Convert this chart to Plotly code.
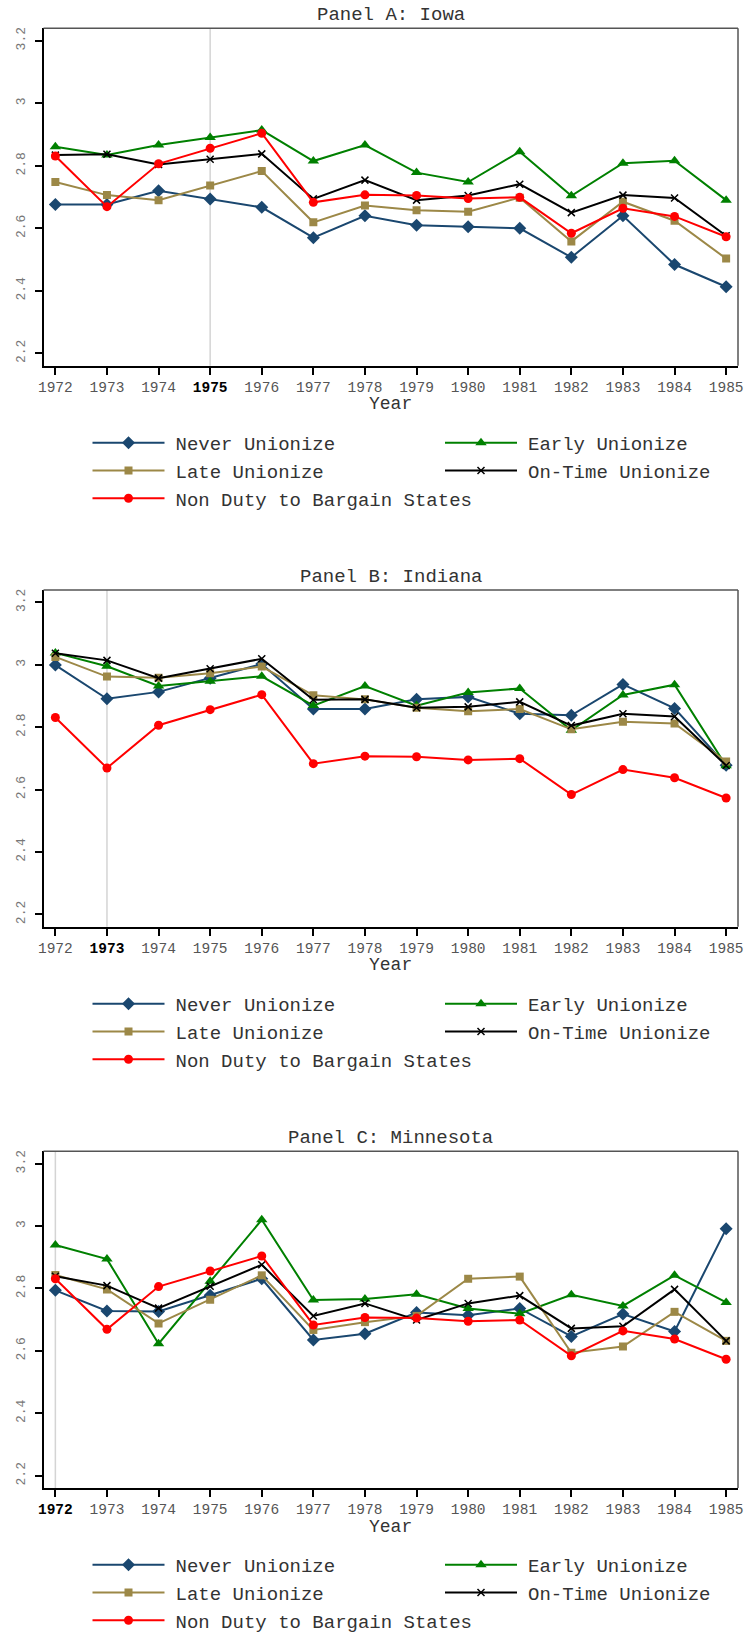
import plotly.graph_objects as go

years = list(range(1972, 1986))

# Non Duty to Bargain States (same in all panels)
non_duty = [2.831, 2.669, 2.806, 2.856, 2.904, 2.683, 2.707, 2.705, 2.695, 2.699, 2.584, 2.664, 2.638, 2.573]

# Panel A: Iowa
iowa_never = [2.676, 2.676, 2.720, 2.694, 2.667, 2.570, 2.640, 2.610, 2.605, 2.600, 2.507, 2.640, 2.484, 2.413]
iowa_early = [2.861, 2.834, 2.866, 2.890, 2.914, 2.815, 2.866, 2.778, 2.748, 2.845, 2.704, 2.808, 2.816, 2.690]
iowa_late = [2.748, 2.706, 2.690, 2.737, 2.783, 2.619, 2.673, 2.658, 2.653, 2.698, 2.558, 2.685, 2.624, 2.503]
iowa_ontime = [2.834, 2.837, 2.804, 2.821, 2.838, 2.694, 2.754, 2.690, 2.705, 2.741, 2.650, 2.706, 2.697, 2.576]

# Panel B: Indiana
ind_never = [2.999, 2.891, 2.913, 2.957, 3.002, 2.858, 2.858, 2.889, 2.897, 2.843, 2.838, 2.937, 2.860, 2.678]
ind_early = [3.038, 2.995, 2.932, 2.947, 2.963, 2.869, 2.932, 2.869, 2.911, 2.924, 2.790, 2.903, 2.936, 2.676]
ind_late = [3.025, 2.962, 2.958, 2.973, 2.994, 2.902, 2.889, 2.862, 2.851, 2.858, 2.793, 2.817, 2.812, 2.690]
ind_ontime = [3.037, 3.014, 2.957, 2.987, 3.019, 2.888, 2.889, 2.862, 2.865, 2.881, 2.805, 2.843, 2.834, 2.677]

# Panel C: Minnesota
mn_never = [2.794, 2.728, 2.726, 2.778, 2.831, 2.635, 2.655, 2.723, 2.714, 2.736, 2.646, 2.718, 2.662, 2.991]
mn_early = [2.939, 2.894, 2.623, 2.823, 3.020, 2.763, 2.766, 2.781, 2.736, 2.719, 2.780, 2.744, 2.842, 2.755]
mn_late = [2.843, 2.797, 2.688, 2.764, 2.842, 2.667, 2.692, 2.712, 2.831, 2.838, 2.594, 2.614, 2.725, 2.632]
mn_ontime = [2.839, 2.809, 2.737, 2.807, 2.876, 2.712, 2.752, 2.699, 2.752, 2.777, 2.672, 2.679, 2.797, 2.632]

series_names = ["Never Unionize", "Early Unionize", "Late Unionize", "On-Time Unionize", "Non Duty to Bargain States"]
panel_titles = ["Panel A: Iowa", "Panel B: Indiana", "Panel C: Minnesota"]
highlight_years = [1975, 1973, 1972]
y_tickvals = [2.2, 2.4, 2.6, 2.8, 3.0, 3.2]
y_ticktext = ["2.2", "2.4", "2.6", "2.8", "3", "3.2"]

panels = [
    [iowa_never, iowa_early, iowa_late, iowa_ontime, non_duty],
    [ind_never, ind_early, ind_late, ind_ontime, non_duty],
    [mn_never, mn_early, mn_late, mn_ontime, non_duty],
]

colors = ["#1a476f", "#008000", "#9c8847", "#000000", "#ff0000"]
symbols = ["diamond", "triangle-up", "square", "x-thin", "circle"]
msizes = [10, 10, 8, 7, 9]
legend_col = [0, 1, 0, 1, 0]

W, H = 744, 1632
FONT = "Liberation Mono, Courier New, monospace"

panel_px = [(28.3, 365.7), (590.0, 926.7), (1151.3, 1488.0)]
x_left, x_right = 43.5, 738.0
legend_top = [424, 985, 1546]
legend_x = [87.5, 440.0]

fig = go.Figure()
layout = dict(
    width=W, height=H,
    margin=dict(l=0, r=0, t=0, b=0, autoexpand=False),
    paper_bgcolor="white", plot_bgcolor="white",
    font=dict(family=FONT, color="#333"),
    shapes=[], annotations=[],
)

for p in range(3):
    xa = "xaxis" if p == 0 else f"xaxis{p+1}"
    ya = "yaxis" if p == 0 else f"yaxis{p+1}"
    xr = "x" if p == 0 else f"x{p+1}"
    yr = "y" if p == 0 else f"y{p+1}"
    top, bot = panel_px[p]
    ticktext = []
    for y in years:
        if y == highlight_years[p]:
            ticktext.append(f"<span style='color:#000'><b>{y}</b></span>")
        else:
            ticktext.append(str(y))
    layout[xa] = dict(
        domain=[x_left / W, x_right / W], anchor=yr,
        range=[1971.77, 1985.23], tickvals=years, ticktext=ticktext,
        ticks="outside", ticklen=7, tickwidth=1.5, tickcolor="#000",
        ticklabelstandoff=0,
        showline=True, linecolor="#000", linewidth=2,
        showgrid=False, zeroline=False,
        tickfont=dict(family=FONT, size=14.5, color="#555"),
    )
    layout[ya] = dict(
        domain=[1 - bot / H, 1 - top / H], anchor=xr,
        range=[2.1605, 3.2395], tickvals=y_tickvals, ticktext=y_ticktext,
        ticks="outside", ticklen=7, tickwidth=1.5, tickcolor="#000",
        tickangle=-90, ticklabelstandoff=4,
        showline=True, linecolor="#000", linewidth=2,
        showgrid=False, zeroline=False,
        tickfont=dict(family=FONT, size=13, color="#777"),
    )
    layout["shapes"].append(dict(type="line", xref=f"{xr} domain", yref=f"{yr} domain",
                                 x0=0, x1=1, y0=1, y1=1, line=dict(color="#555", width=1.5)))
    layout["shapes"].append(dict(type="line", xref=f"{xr} domain", yref=f"{yr} domain",
                                 x0=1, x1=1, y0=0, y1=1, line=dict(color="#555", width=1.5)))
    layout["shapes"].append(dict(type="line", xref=xr, yref=f"{yr} domain", layer="below",
                                 x0=highlight_years[p], x1=highlight_years[p], y0=0, y1=1,
                                 line=dict(color="#d4d4d4", width=1.5)))
    layout["annotations"].append(dict(text=panel_titles[p], xref="paper", yref="paper",
                                      x=(x_left + x_right) / 2 / W, y=1 - (top - 13.5) / H,
                                      xanchor="center", yanchor="middle", showarrow=False,
                                      font=dict(family=FONT, size=19, color="#333")))
    layout["annotations"].append(dict(text="Year", xref="paper", yref="paper",
                                      x=(x_left + x_right) / 2 / W, y=1 - (bot + 38.5) / H,
                                      xanchor="center", yanchor="middle", showarrow=False,
                                      font=dict(family=FONT, size=18, color="#333")))
    lg_ids = []
    for c in range(2):
        idx = 2 * p + c + 1
        lg = "legend" if idx == 1 else f"legend{idx}"
        lg_ids.append(lg)
        layout[lg] = dict(
            orientation="v", x=legend_x[c] / W, y=1 - legend_top[p] / H,
            xanchor="left", yanchor="top", itemwidth=72,
            font=dict(family=FONT, size=19, color="#333"),
            bgcolor="rgba(0,0,0,0)", traceorder="normal", itemclick=False,
        )
    for i, name in enumerate(series_names):
        fig.add_trace(go.Scatter(
            x=years, y=panels[p][i], mode="lines+markers",
            name="<span style='font-size:10px'> </span>" + name,
            xaxis=xr, yaxis=yr, legend=lg_ids[legend_col[i]],
            line=dict(color=colors[i], width=2),
            marker=dict(symbol=symbols[i], size=msizes[i], color=colors[i],
                        line=dict(color=colors[i], width=1.5 if symbols[i] == "x-thin" else 0)),
        ))

fig.update_layout(**layout)
fig.write_html("out.html")
